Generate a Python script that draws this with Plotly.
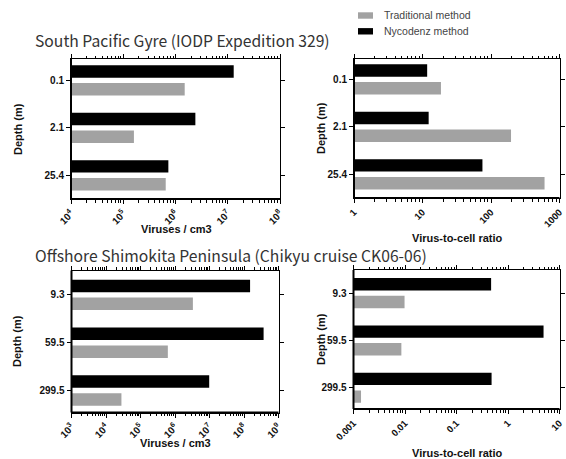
import plotly.graph_objects as go

# ---------------- data ----------------
depth_top = ["0.1", "2.1", "25.4"]
virus_trad_top = [1.5e6, 1.6e5, 6.5e5]
virus_nyco_top = [1.3e7, 2.4e6, 7.3e5]
ratio_trad_top = [18.6, 196, 605]
ratio_nyco_top = [11.7, 12.3, 75]

depth_bot = ["9.3", "59.5", "299.5"]
virus_trad_bot = [3.3e6, 6.2e5, 2.8e4]
virus_nyco_bot = [1.5e8, 3.7e8, 9.8e6]
ratio_trad_bot = [0.0098, 0.0085, 0.0014]
ratio_nyco_bot = [0.47, 4.9, 0.48]

virus_ticks_top = [1e4, 1e5, 1e6, 1e7, 1e8]
virus_ticktext_top = ["10<sup>4</sup>", "10<sup>5</sup>", "10<sup>6</sup>", "10<sup>7</sup>", "10<sup>8</sup>"]
virus_ticks_bot = [1e3, 1e4, 1e5, 1e6, 1e7, 1e8, 1e9]
virus_ticktext_bot = ["10<sup>3</sup>", "10<sup>4</sup>", "10<sup>5</sup>", "10<sup>6</sup>",
                      "10<sup>7</sup>", "10<sup>8</sup>", "10<sup>9</sup>"]
ratio_ticks_top = [1, 10, 100, 1000]
ratio_ticktext_top = ["1", "10", "100", "1000"]
ratio_ticks_bot = [0.001, 0.01, 0.1, 1, 10]
ratio_ticktext_bot = ["0.001", "0.01", "0.1", "1", "10"]

titles = ["South Pacific Gyre (IODP Expedition 329)",
          "Offshore Shimokita Peninsula (Chikyu cruise CK06-06)"]
legend_names = ["Traditional method", "Nycodenz method"]

GRAY = "#a2a2a2"
BLACK = "#000000"
W, H = 566, 459

fig = go.Figure()

panels = [
    ("", depth_top, virus_trad_top, virus_nyco_top),
    ("2", depth_top, ratio_trad_top, ratio_nyco_top),
    ("3", depth_bot, virus_trad_bot, virus_nyco_bot),
    ("4", depth_bot, ratio_trad_bot, ratio_nyco_bot),
]
for suf, cats, trad, nyco in panels:
    fig.add_trace(go.Bar(y=cats, x=nyco, orientation="h", name=legend_names[1],
                         marker=dict(color=BLACK, line=dict(width=0)),
                         xaxis="x" + suf, yaxis="y" + suf, showlegend=False))
    fig.add_trace(go.Bar(y=cats, x=trad, orientation="h", name=legend_names[0],
                         marker=dict(color=GRAY, line=dict(width=0)),
                         xaxis="x" + suf, yaxis="y" + suf, showlegend=False))

def px_x(p):
    return p / W

def px_y(p):
    return 1 - p / H

def minor_vals(lo, hi):
    return [m * 10.0 ** e for e in range(lo, hi) for m in range(2, 10)]

tick_font = dict(family="Liberation Sans, Arial", size=10, color="#111", weight="bold")
xtick_font = dict(family="Liberation Sans, Arial", size=9.5, color="#111", weight="bold")
xtick_font_pow = dict(family="Liberation Sans, Arial", size=10, color="#111", weight="bold")

common_x = dict(type="log", showgrid=False, zeroline=False, showline=True, linecolor="black",
                linewidth=1, mirror="allticks", ticks="outside", ticklen=4, tickwidth=1,
                tickcolor="black", tickangle=-45, automargin=False,
                tickmode="array")
common_y = dict(type="category", showgrid=False, zeroline=False, showline=True,
                linecolor="black", linewidth=1, mirror="allticks", ticks="outside",
                ticklen=4, tickwidth=1, tickcolor="black", tickfont=tick_font,
                automargin=False)

geo = {
    "": (71, 280, 59, 199),
    "2": (354, 559.5, 59, 198),
    "3": (71.5, 278.5, 270.5, 412.5),
    "4": (353.5, 559.5, 270, 409),
}
yranges = {
    "": [2.5, -0.45],
    "2": [2.5, -0.43],
    "3": [2.46, -0.51],
    "4": [2.45, -0.49],
}
xdec = {"": (4, 8), "2": (0, 3), "3": (3, 9), "4": (-3, 1)}
xticks = {
    "": (virus_ticks_top, virus_ticktext_top, xtick_font_pow),
    "2": (ratio_ticks_top, ratio_ticktext_top, xtick_font),
    "3": (virus_ticks_bot, virus_ticktext_bot, xtick_font_pow),
    "4": (ratio_ticks_bot, ratio_ticktext_bot, xtick_font),
}

layout = dict(
    width=W, height=H, margin=dict(l=0, r=0, t=0, b=0, autoexpand=False),
    paper_bgcolor="white", plot_bgcolor="white",
    barmode="group", bargap=0.25, bargroupgap=0.3,
    showlegend=False,
)
for suf in ["", "2", "3", "4"]:
    x0, x1, yt, yb = geo[suf]
    lo, hi = xdec[suf]
    tv, tt, tf = xticks[suf]
    xa = dict(common_x, domain=[px_x(x0), px_x(x1)], anchor="y" + suf, range=[lo, hi],
              tickvals=tv, ticktext=tt, tickfont=tf,
              minor=dict(tickmode="array", tickvals=minor_vals(lo, hi), ticks="outside",
                         ticklen=2.5, tickwidth=1, tickcolor="black", showgrid=False))
    ya = dict(common_y, domain=[px_y(yb), px_y(yt)], anchor="x" + suf, range=yranges[suf])
    layout["xaxis" + suf] = xa
    layout["yaxis" + suf] = ya

fig.update_layout(**layout)

shapes = []
annotations = []
for suf in ["", "2", "3", "4"]:
    xr = "x" + suf + " domain"
    yr = "y" + suf + " domain"
    shapes.append(dict(type="line", xref=xr, yref=yr, x0=0, x1=0, y0=0, y1=1,
                       line=dict(color="black", width=2)))
    shapes.append(dict(type="line", xref=xr, yref=yr, x0=0, x1=1, y0=0, y1=0,
                       line=dict(color="black", width=2)))

axis_title_font = dict(family="Liberation Sans, Arial", size=11, color="#111", weight="bold")
for text, cx, cy in [("Viruses / cm3", 176, 229), ("Virus-to-cell ratio", 457, 238),
                     ("Viruses / cm3", 175, 443), ("Virus-to-cell ratio", 457, 453)]:
    annotations.append(dict(text=text, x=px_x(cx), y=px_y(cy), xref="paper", yref="paper",
                            showarrow=False, xanchor="center", yanchor="middle",
                            font=axis_title_font))
for cx, cy in [(18, 129), (321, 128), (17, 341), (321, 339)]:
    annotations.append(dict(text="Depth (m)", x=px_x(cx), y=px_y(cy), xref="paper", yref="paper",
                            showarrow=False, xanchor="center", yanchor="middle", textangle=-90,
                            font=axis_title_font))
title_font = dict(family="Noto Sans CJK JP, Noto Sans", size=15.7, color="#333")
for text, cy in [(titles[0], 41), (titles[1], 255)]:
    annotations.append(dict(text=text, x=px_x(33), y=px_y(cy), xref="paper", yref="paper",
                            showarrow=False, xanchor="left", yanchor="middle", font=title_font))

for name, color, cy in [(legend_names[0], GRAY, 15.5), (legend_names[1], BLACK, 31.3)]:
    shapes.append(dict(type="rect", xref="paper", yref="paper",
                       x0=px_x(358), x1=px_x(373), y0=px_y(cy + 3.2), y1=px_y(cy - 3.2),
                       fillcolor=color, line=dict(width=0)))
    annotations.append(dict(text=name, x=px_x(382), y=px_y(cy), xref="paper", yref="paper",
                            showarrow=False, xanchor="left", yanchor="middle",
                            font=dict(family="Liberation Sans, Arial", size=10.5, color="#444")))

fig.update_layout(shapes=shapes, annotations=annotations)
fig.write_html("out.html")
